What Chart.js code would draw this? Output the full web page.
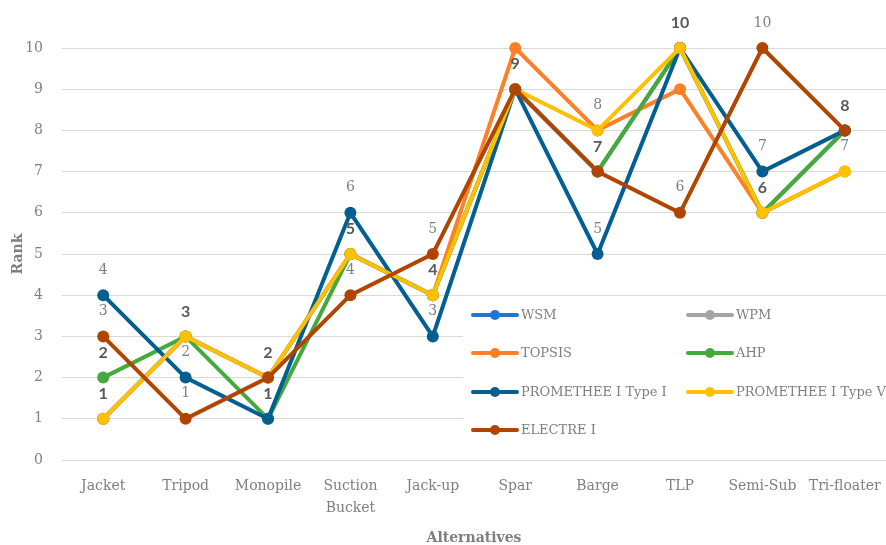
<!DOCTYPE html>
<html>
<head>
<meta charset="utf-8">
<script src="https://cdn.jsdelivr.net/npm/chart.js@4.4.1/dist/chart.umd.min.js"></script>
<style>
  html, body { margin: 0; padding: 0; background: #ffffff; }
  canvas { display: block; }
</style>
</head>
<body>
<canvas id="c" width="886" height="545"></canvas>
<script>
// ---- Data ----
const categories = ['Jacket', 'Tripod', 'Monopile', ['Suction', 'Bucket'], 'Jack-up', 'Spar', 'Barge', 'TLP', 'Semi-Sub', 'Tri-floater'];
const yTicks = [0, 1, 2, 3, 4, 5, 6, 7, 8, 9, 10];
const seriesNames = ['WSM', 'WPM', 'TOPSIS', 'AHP', 'PROMETHEE I Type I', 'PROMETHEE I Type V', 'ELECTRE I'];
const wsm      = [1, 3, 2, 5, 4, 9, 7, 10, 6, 8];
const wpm      = [1, 3, 2, 5, 4, 9, 7, 10, 6, 8];
const topsis   = [1, 3, 2, 5, 4, 10, 8, 9, 6, 7];
const ahp      = [2, 3, 1, 5, 4, 9, 7, 10, 6, 8];
const prom1    = [4, 2, 1, 6, 3, 9, 5, 10, 7, 8];
const prom5    = [1, 3, 2, 5, 4, 9, 8, 10, 6, 7];
const electre  = [3, 1, 2, 4, 5, 9, 7, 6, 10, 8];

const seriesValues = [wsm, wpm, topsis, ahp, prom1, prom5, electre];
const colors = ['#1f77cf', '#a5a5a5', '#fd7f27', '#45aa3b', '#035e91', '#ffc000', '#b04500'];
// label style per series: 'bold', 'regular' or null
const labelStyles = ['bold', 'bold', null, 'bold', 'regular', 'regular', 'regular'];

const SERIF = '"DejaVu Serif", "Liberation Serif", serif';
const GRAY = '#7f7f7f';

const datasets = seriesNames.map((name, i) => ({
  label: name,
  data: seriesValues[i],
  borderColor: colors[i],
  backgroundColor: colors[i],
  pointBackgroundColor: colors[i],
  pointBorderColor: colors[i],
  pointBorderWidth: 0,
  pointRadius: 6,
  pointHoverRadius: 6,
  borderWidth: 4,
  tension: 0,
  fill: false,
  clip: false,
  order: -i
}));

const labelPlugin = {
  id: 'pointLabels',
  afterDatasetsDraw(chart) {
    const ctx = chart.ctx;
    ctx.save();
    ctx.textAlign = 'center';
    ctx.textBaseline = 'middle';
    // collect unique labels; bold wins over regular at same spot
    const spots = new Map();
    chart.data.datasets.forEach((ds, i) => {
      const style = labelStyles[i];
      if (!style) return;
      const meta = chart.getDatasetMeta(i);
      meta.data.forEach((pt, j) => {
        const key = j + ':' + ds.data[j];
        const prev = spots.get(key);
        if (!prev || (prev.style === 'regular' && style === 'bold')) {
          spots.set(key, { style, x: pt.x, y: pt.y, text: String(ds.data[j]) });
        }
      });
    });
    const list = Array.from(spots.values());
    ['regular', 'bold'].forEach(style => {
      if (style === 'bold') {
        ctx.font = 'bold 16px Lato, "Liberation Sans", sans-serif';
        ctx.fillStyle = '#595959';
      } else {
        ctx.font = '14px ' + SERIF;
        ctx.fillStyle = GRAY;
      }
      list.filter(s => s.style === style).forEach(s => {
        ctx.fillText(s.text, s.x, s.y - 25);
      });
    });
    ctx.restore();
  }
};

const legendPlugin = {
  id: 'boxLegend',
  afterDraw(chart) {
    const ctx = chart.ctx;
    ctx.save();
    ctx.fillStyle = '#ffffff';
    ctx.fillRect(463, 299, 886 - 463, 151);
    const cols = [473, 688];
    const rows = [315, 353, 392, 430];
    ctx.font = '13px ' + SERIF;
    ctx.textBaseline = 'middle';
    ctx.textAlign = 'left';
    seriesNames.forEach((name, i) => {
      const x = cols[i % 2];
      const y = rows[Math.floor(i / 2)];
      ctx.strokeStyle = colors[i];
      ctx.lineWidth = 4;
      ctx.lineCap = 'round';
      ctx.beginPath();
      ctx.moveTo(x, y);
      ctx.lineTo(x + 44, y);
      ctx.stroke();
      ctx.fillStyle = colors[i];
      ctx.beginPath();
      ctx.arc(x + 22, y, 5, 0, Math.PI * 2);
      ctx.fill();
      ctx.fillStyle = GRAY;
      ctx.fillText(name, x + 48, y + 1);
    });
    ctx.restore();
  }
};

new Chart(document.getElementById('c'), {
  type: 'line',
  data: { labels: categories, datasets: datasets },
  options: {
    responsive: false,
    animation: false,
    layout: { autoPadding: false, padding: { top: 48, left: 0, right: 0, bottom: 0 } },
    plugins: {
      legend: { display: false },
      tooltip: { enabled: false }
    },
    scales: {
      x: {
        offset: true,
        grid: { display: false, offset: true },
        border: { display: false },
        ticks: {
          color: GRAY,
          font: { family: SERIF, size: 14, lineHeight: 1.55 },
          padding: 8,
          maxRotation: 0,
          autoSkip: false
        },
        title: {
          display: true,
          text: 'Alternatives',
          color: GRAY,
          font: { family: SERIF, size: 14, weight: 'bold', lineHeight: 1.0 },
          padding: { top: 0, bottom: 0 }
        },
        afterFit(scale) {
          scale.height = 85;
          scale.paddingLeft = 0;
          scale.paddingRight = 0;
        }
      },
      y: {
        min: 0,
        max: 10,
        afterBuildTicks(scale) { scale.ticks = yTicks.map(v => ({ value: v })); },
        grid: { color: '#d9d9d9', lineWidth: 1, drawTicks: false },
        border: { display: false },
        ticks: {
          color: GRAY,
          font: { family: SERIF, size: 14 },
          padding: 19
        },
        title: {
          display: true,
          text: 'Rank',
          color: GRAY,
          font: { family: SERIF, size: 14, weight: 'bold', lineHeight: 1.2 },
          padding: { top: 10, bottom: 0 }
        },
        afterFit(scale) { scale.width = 62; }
      }
    }
  },
  plugins: [labelPlugin, legendPlugin]
});
</script>
</body>
</html>
